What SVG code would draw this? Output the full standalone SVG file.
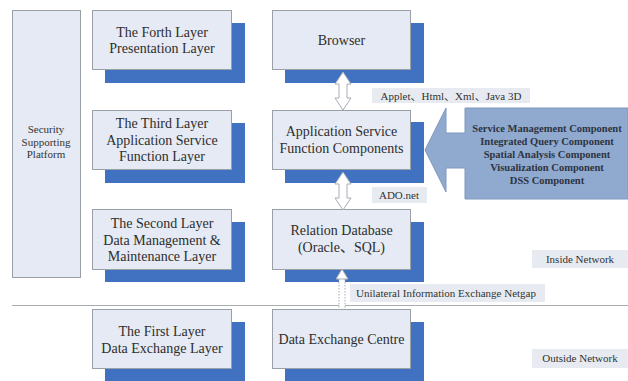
<svg xmlns="http://www.w3.org/2000/svg" width="628" height="381" viewBox="0 0 628 381">
  <style>
    .box { fill: #e5eaf4; stroke: #9aa0a8; stroke-width: 1; }
    .shadow { fill: #4172c2; }
    .t { font-family: "Liberation Serif", "Times New Roman", serif; font-size: 14px; fill: #2e2e2e; text-anchor: middle; }
    .s { font-family: "Liberation Serif", "Times New Roman", "Noto Sans CJK SC", serif; font-size: 11px; fill: #333; text-anchor: middle; }
    .b { font-family: "Liberation Serif", "Times New Roman", serif; font-size: 10.5px; font-weight: bold; fill: #2e3440; text-anchor: middle; }
    .lbl { fill: #e7ebf1; }
    .dbl { fill: #ffffff; stroke: #a8adb3; stroke-width: 1; }
  </style>

  <rect width="628" height="381" fill="#ffffff"/>

  <!-- network boundary -->
  <line x1="12" y1="305.5" x2="628" y2="305.5" stroke="#a9adb2" stroke-width="1.2"/>

  <!-- security column -->
  <g id="security">
    <rect class="box" x="12.5" y="10.5" width="68" height="267"/>
    <text class="s" x="46" y="133">Security</text>
    <text class="s" x="46" y="145.5">Supporting</text>
    <text class="s" x="46" y="158">Platform</text>
  </g>

  <!-- layer column -->
  <g id="layer4">
    <rect class="shadow" x="105" y="23" width="140" height="60"/>
    <rect class="box" x="92.5" y="10.5" width="139" height="59"/>
    <text class="t" x="162" y="36.5">The Forth Layer</text>
    <text class="t" x="162" y="53">Presentation Layer</text>
  </g>
  <g id="layer3">
    <rect class="shadow" x="105" y="123" width="140" height="60"/>
    <rect class="box" x="92.5" y="110.5" width="139" height="59"/>
    <text class="t" x="162" y="128">The Third Layer</text>
    <text class="t" x="162" y="144.5">Application Service</text>
    <text class="t" x="162" y="161">Function Layer</text>
  </g>
  <g id="layer2">
    <rect class="shadow" x="105" y="222" width="140" height="60"/>
    <rect class="box" x="92.5" y="209.5" width="139" height="60"/>
    <text class="t" x="162" y="228">The Second Layer</text>
    <text class="t" x="162" y="244.5">Data Management &amp;</text>
    <text class="t" x="162" y="261">Maintenance Layer</text>
  </g>
  <g id="layer1">
    <rect class="shadow" x="105" y="322" width="140" height="60"/>
    <rect class="box" x="92.5" y="309.5" width="139" height="59"/>
    <text class="t" x="162" y="336">The First Layer</text>
    <text class="t" x="162" y="352.5">Data Exchange Layer</text>
  </g>

  <!-- component column -->
  <g id="browser">
    <rect class="shadow" x="285" y="23" width="139" height="60"/>
    <rect class="box" x="272.5" y="10.5" width="138" height="59"/>
    <text class="t" x="341.5" y="45">Browser</text>
  </g>
  <g id="appservice">
    <rect class="shadow" x="285" y="122" width="139" height="61"/>
    <rect class="box" x="272.5" y="110.5" width="138" height="59"/>
    <text class="t" x="341.5" y="135.5">Application Service</text>
    <text class="t" x="341.5" y="152.5">Function Components</text>
  </g>
  <g id="database">
    <rect class="shadow" x="285" y="222" width="139" height="60"/>
    <rect class="box" x="272.5" y="209.5" width="138" height="60"/>
    <text class="t" x="341.5" y="234.5">Relation Database</text>
    <text class="t" x="341.5" y="252" style="font-family: 'Liberation Serif', 'Noto Sans CJK SC', serif;">(Oracle、SQL)</text>
  </g>
  <g id="exchange">
    <rect class="shadow" x="285" y="322" width="139" height="60"/>
    <rect class="box" x="272.5" y="309.5" width="138" height="59"/>
    <text class="t" x="341.5" y="344">Data Exchange Centre</text>
  </g>

  <!-- component callout -->
  <g id="components">
    <polygon points="425,150 446,108 446,133 465,133 465,108 628,108 628,199 465,199 465,168 446,168 446,192" fill="#8fa9cf" stroke="#7f98c0" stroke-width="1"/>
    <text class="b" x="547" y="132">Service Management Component</text>
    <text class="b" x="547" y="145">Integrated Query Component</text>
    <text class="b" x="547" y="158">Spatial Analysis Component</text>
    <text class="b" x="547" y="171">Visualization Component</text>
    <text class="b" x="547" y="184">DSS Component</text>
  </g>

  <!-- network labels -->
  <g id="inside">
    <rect class="lbl" x="532" y="250" width="96" height="18"/>
    <text class="s" x="580" y="263">Inside Network</text>
  </g>
  <g id="outside">
    <rect class="lbl" x="532" y="349" width="96" height="19"/>
    <text class="s" x="580" y="362">Outside Network</text>
  </g>

  <!-- connectors -->
  <g id="connectors">
    <polygon class="dbl" points="343,72 351,84 347,84 347,98 351,98 343,110 335,98 339,98 339,84 335,84"/>
    <polygon class="dbl" points="343,172 351,184 347,184 347,198 351,198 343,210 335,198 339,198 339,184 335,184"/>
    <rect fill="#ffffff" x="339" y="279" width="6" height="30"/>
    <line x1="339" y1="279" x2="339" y2="309" stroke="#a8adb3" stroke-width="1" stroke-dasharray="1.5 1.5"/>
    <line x1="345" y1="279" x2="345" y2="309" stroke="#a8adb3" stroke-width="1" stroke-dasharray="1.5 1.5"/>
    <polygon class="dbl" points="342,269 348,279 336,279"/>

    <rect class="lbl" x="372" y="88" width="158" height="15"/>
    <text class="s" x="451" y="99.5">Applet、Html、Xml、Java 3D</text>
    <rect class="lbl" x="372" y="187" width="55" height="16"/>
    <text class="s" x="399" y="199">ADO.net</text>
    <rect class="lbl" x="350" y="284" width="195" height="18"/>
    <text class="s" x="446" y="297">Unilateral Information Exchange Netgap</text>
  </g>
</svg>
